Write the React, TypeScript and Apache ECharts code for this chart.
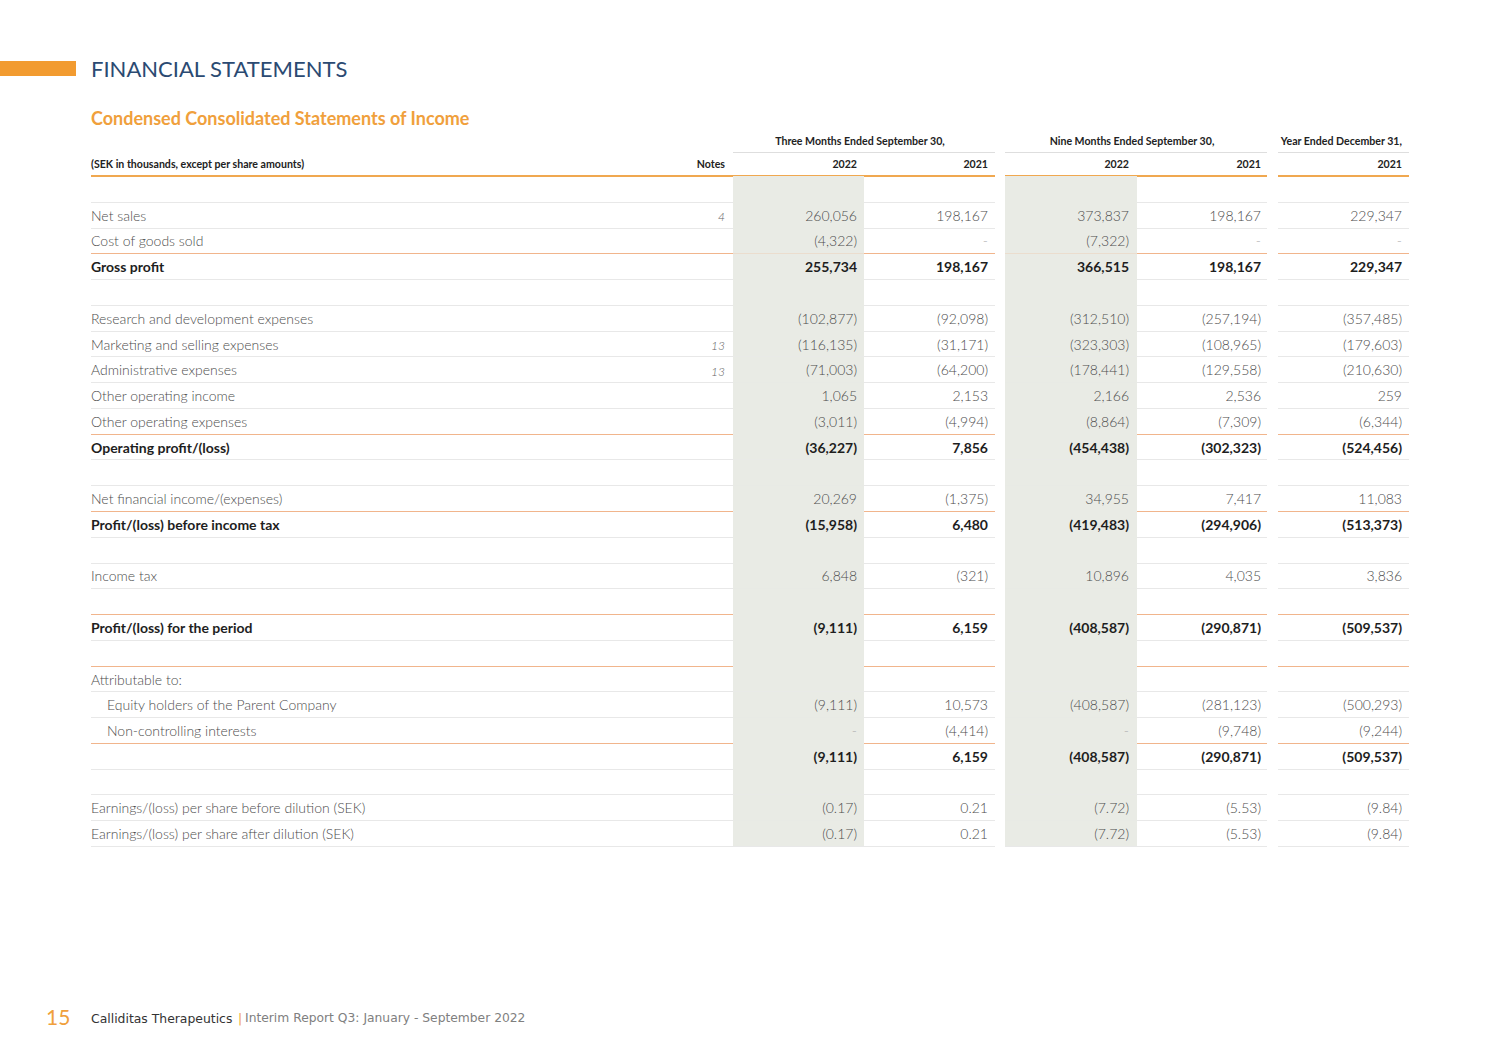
import React, { useEffect, useRef } from "react";
import * as echarts from "echarts";

// ---------- DATA ----------
const rowLabels: string[] = [
  "",
  "Net sales",
  "Cost of goods sold",
  "Gross profit",
  "",
  "Research and development expenses",
  "Marketing and selling expenses",
  "Administrative expenses",
  "Other operating income",
  "Other operating expenses",
  "Operating profit/(loss)",
  "",
  "Net financial income/(expenses)",
  "Profit/(loss) before income tax",
  "",
  "Income tax",
  "",
  "Profit/(loss) for the period",
  "",
  "Attributable to:",
  "Equity holders of the Parent Company",
  "Non-controlling interests",
  "",
  "",
  "Earnings/(loss) per share before dilution (SEK)",
  "Earnings/(loss) per share after dilution (SEK)",
];
const rowNotes: string[] = ["", "4", "", "", "", "", "13", "13", "", "", "", "", "", "", "", "", "", "", "", "", "", "", "", "", "", ""];
const boldRows: number[] = [3, 10, 13, 17, 22];
const indentRows: number[] = [20, 21];
const orangeLineRows: number[] = [2, 9, 12, 16, 18, 21];
const decimalRows: number[] = [24, 25];

type V = number | null;
const q3_2022: V[] = [null, 260056, -4322, 255734, null, -102877, -116135, -71003, 1065, -3011, -36227, null, 20269, -15958, null, 6848, null, -9111, null, null, -9111, 0, -9111, null, -0.17, -0.17];
const q3_2021: V[] = [null, 198167, 0, 198167, null, -92098, -31171, -64200, 2153, -4994, 7856, null, -1375, 6480, null, -321, null, 6159, null, null, 10573, -4414, 6159, null, 0.21, 0.21];
const nine_2022: V[] = [null, 373837, -7322, 366515, null, -312510, -323303, -178441, 2166, -8864, -454438, null, 34955, -419483, null, 10896, null, -408587, null, null, -408587, 0, -408587, null, -7.72, -7.72];
const nine_2021: V[] = [null, 198167, 0, 198167, null, -257194, -108965, -129558, 2536, -7309, -302323, null, 7417, -294906, null, 4035, null, -290871, null, null, -281123, -9748, -290871, null, -5.53, -5.53];
const year_2021: V[] = [null, 229347, 0, 229347, null, -357485, -179603, -210630, 259, -6344, -524456, null, 11083, -513373, null, 3836, null, -509537, null, null, -500293, -9244, -509537, null, -9.84, -9.84];

const groupHeaders: string[] = ["Three Months Ended September 30,", "Nine Months Ended September 30,", "Year Ended December 31,"];
const yearHeaders: string[] = ["2022", "2021", "2022", "2021", "2021"];

// ---------- LAYOUT ----------
const W = 1500;
const H = 1061;
const LABEL_X = 91;
const INDENT = 16;
const NOTES_X = 725;
const VALUE_X = [857, 988, 1129, 1261, 1402];
const SEGMENTS: [number, number][] = [[91, 995], [1005, 1267], [1278, 1409]];
const HEAD_SEGMENTS: [number, number][] = [[733, 995], [1005, 1267], [1278, 1409]];
const SHADES: [number, number][] = [[733, 864], [1005, 1137]];
const TABLE_TOP = 176;
const TABLE_BOTTOM = 846;

const ORANGE = "#f29b30";
const NAVY = "#2b4a72";
const SHADE = "#e9ebe5";
const GRID_LINE = "#e8e8e8";
const ORANGE_LINE = "#f1b58c";

function fmt(v: V, dec: number): string {
  if (v === null) return "";
  if (v === 0) return "-";
  const s = Math.abs(v).toLocaleString("en-US", { minimumFractionDigits: dec, maximumFractionDigits: dec });
  return v < 0 ? `(${s})` : s;
}

function txt(text: string, x: number, y: number, font: string, fill: string, align: string = "left") {
  return {
    type: "text",
    x,
    y,
    style: { text, font, fill, textAlign: align, align, textVerticalAlign: "middle", verticalAlign: "middle" },
    silent: true,
  };
}

export default function App() {
  const ref = useRef<HTMLDivElement>(null);
  useEffect(() => {
    if (!ref.current) return;
    const chart = echarts.init(ref.current, undefined, { renderer: "svg" });
    const columns = [q3_2022, q3_2021, nine_2022, nine_2021, year_2021];
    const rowIdx = rowLabels.map((_, i) => String(i));

    const graphics: any[] = [
      { type: "rect", shape: { x: 0, y: 61, width: 76, height: 15 }, style: { fill: ORANGE } },
      txt("FINANCIAL STATEMENTS", LABEL_X, 68, "400 22px Lato", NAVY),
      txt("Condensed Consolidated Statements of Income", LABEL_X, 118, "700 18px Lato", "#f0a03c"),
      // header row 1
      txt(groupHeaders[0], (HEAD_SEGMENTS[0][0] + HEAD_SEGMENTS[0][1]) / 2 - 4, 141, "700 10.6px Lato", "#222", "center"),
      txt(groupHeaders[1], (HEAD_SEGMENTS[1][0] + HEAD_SEGMENTS[1][1]) / 2 - 4, 141, "700 10.6px Lato", "#222", "center"),
      txt(groupHeaders[2], VALUE_X[4], 141, "700 10.6px Lato", "#222", "right"),
      // header row 2
      txt("(SEK in thousands, except per share amounts)", LABEL_X, 164, "700 10.6px Lato", "#222"),
      txt("Notes", NOTES_X, 164, "700 10.6px Lato", "#222", "right"),
      ...yearHeaders.map((y, k) => txt(y, VALUE_X[k], 164, "700 10.6px Lato", "#222", "right")),
      ...HEAD_SEGMENTS.map(([a, b]) => ({ type: "line", shape: { x1: a, y1: 152.5, x2: b, y2: 152.5 }, style: { stroke: "#dedede", lineWidth: 1 } })),
      ...SEGMENTS.map(([a, b]) => ({ type: "line", shape: { x1: a, y1: TABLE_TOP, x2: b, y2: TABLE_TOP }, style: { stroke: "#f0a850", lineWidth: 2 } })),
      // footer
      txt("15", 46, 1016, "400 21px Lato", "#f0a03c"),
      txt("Calliditas Therapeutics", 91, 1018, "500 12.4px 'DejaVu Sans'", "#333"),
      txt("|", 238, 1018, "400 12.5px 'DejaVu Sans'", "#f0a03c"),
      txt("Interim Report Q3: January - September 2022", 245, 1018, "400 12.3px 'DejaVu Sans'", "#808080"),
    ];

    chart.setOption({
      animation: false,
      backgroundColor: "#ffffff",
      grid: { left: 0, right: 0, top: TABLE_TOP, bottom: H - TABLE_BOTTOM, containLabel: false },
      xAxis: { type: "value", min: 0, max: W, show: false },
      yAxis: { type: "category", data: rowIdx, inverse: true, show: false, boundaryGap: true },
      graphic: graphics,
      series: [
        {
          type: "custom",
          clip: false,
          data: rowIdx.map((_, i) => [0, i]),
          renderItem: (params: any, api: any) => {
            const i = params.dataIndex;
            const c = api.coord([0, i]);
            const h = api.size([0, 1])[1];
            const top = c[1] - h / 2;
            const bottom = c[1] + h / 2;
            const yc = c[1];
            const px = (x: number) => api.coord([x, i])[0];
            const bold = boldRows.includes(i);
            const dec = decimalRows.includes(i) ? 2 : 0;
            const children: any[] = [];
            SHADES.forEach(([a, b]) => {
              children.push({ type: "rect", shape: { x: px(a), y: top, width: px(b) - px(a), height: h + 0.5 }, style: { fill: SHADE } });
            });
            const orange = orangeLineRows.includes(i);
            SEGMENTS.forEach(([a, b]) => {
              children.push({
                type: "line",
                shape: { x1: px(a), y1: Math.round(bottom) + 0.5, x2: px(b), y2: Math.round(bottom) + 0.5 },
                style: { stroke: orange ? ORANGE_LINE : GRID_LINE, lineWidth: 1 },
              });
            });
            const labelFont = bold ? "700 14px Lato" : "300 14px Lato";
            const labelFill = bold ? "#1e1e1e" : "#4d4d4d";
            const lx = px(LABEL_X + (indentRows.includes(i) ? INDENT : 0));
            if (rowLabels[i]) children.push(txt(rowLabels[i], lx, yc + 0.5, labelFont, labelFill));
            if (rowNotes[i]) children.push(txt(rowNotes[i], px(NOTES_X), yc + 2, "italic 300 12px Lato", "#666", "right"));
            columns.forEach((col, k) => {
              const s = fmt(col[i], dec);
              if (!s) return;
              const fill = s === "-" ? "#aaa" : labelFill;
              children.push(txt(s, px(VALUE_X[k]), yc + 0.5, labelFont, fill, "right"));
            });
            return { type: "group", children };
          },
        },
      ],
    });
    return () => chart.dispose();
  }, []);
  return <div ref={ref} style={{ position: "fixed", left: 0, top: 0, width: W, height: H, background: "#fff" }} />;
}
